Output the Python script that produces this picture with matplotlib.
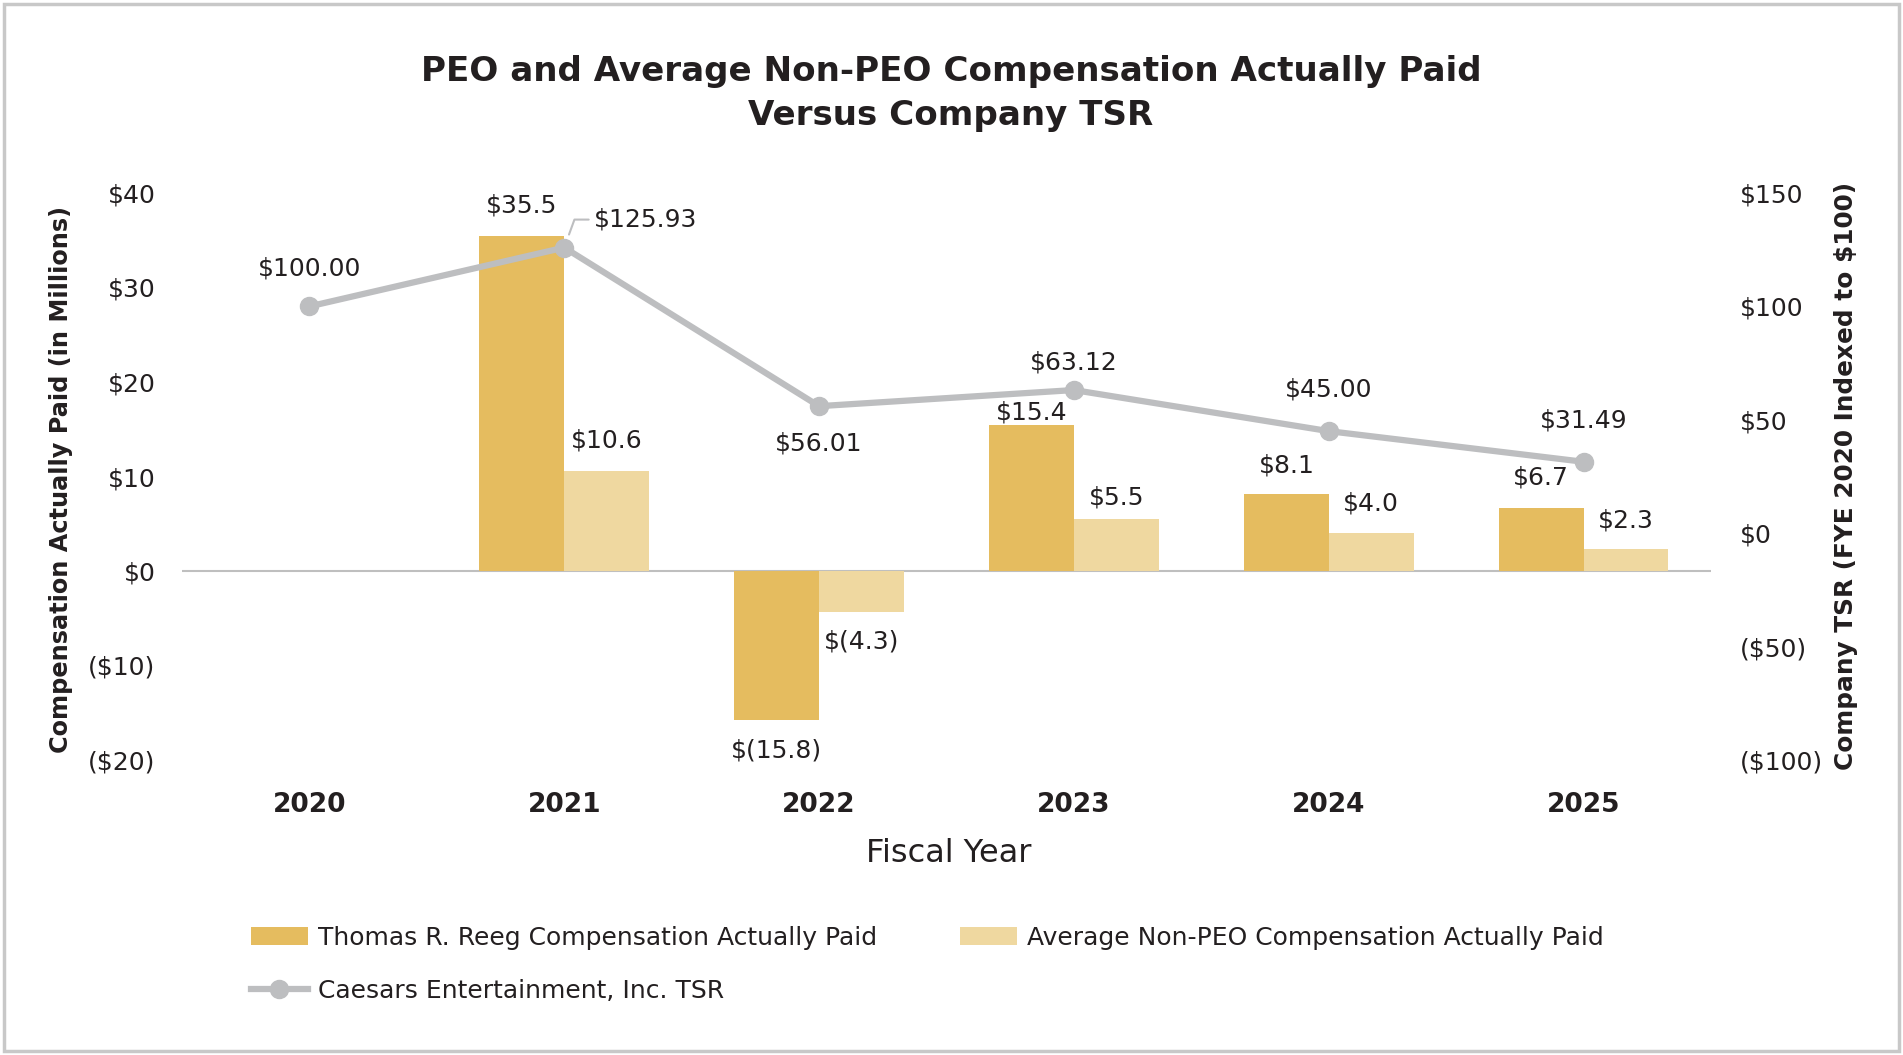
import matplotlib
matplotlib.use("Agg")
import matplotlib.pyplot as plt
import numpy as np
from matplotlib.patches import Rectangle

years = ["2020", "2021", "2022", "2023", "2024", "2025"]
peo_cap = [np.nan, 35.5, -15.8, 15.4, 8.1, 6.7]
neo_cap = [np.nan, 10.6, -4.3, 5.5, 4.0, 2.3]
tsr = [100.00, 125.93, 56.01, 63.12, 45.00, 31.49]

peo_labels = ["", "$35.5", "$(15.8)", "$15.4", "$8.1", "$6.7"]
neo_labels = ["", "$10.6", "$(4.3)", "$5.5", "$4.0", "$2.3"]
tsr_labels = ["$100.00", "$125.93", "$56.01", "$63.12", "$45.00", "$31.49"]

left_ticks = [-20, -10, 0, 10, 20, 30, 40]
left_ticklabels = ["($20)", "($10)", "$0", "$10", "$20", "$30", "$40"]
right_ticks = [-100, -50, 0, 50, 100, 150]
right_ticklabels = ["($100)", "($50)", "$0", "$50", "$100", "$150"]

GOLD = "#E5BC5F"
LIGHT = "#EFD8A0"
GRAY = "#BDBEC0"
TXT = "#231F20"

plt.rcParams['font.family'] = ['DejaVu Sans']

fig = plt.figure(figsize=(19.03, 10.55), dpi=100)
ax = fig.add_axes([182/1903, 1-760/1055, (1711-182)/1903, (760-193)/1055])
ax2 = ax.twinx()

x = np.arange(len(years))
w = 0.333
ax.bar(x - w/2, peo_cap, width=w, color=GOLD, label="Thomas R. Reeg Compensation Actually Paid", zorder=2)
ax.bar(x + w/2, neo_cap, width=w, color=LIGHT, label="Average Non-PEO Compensation Actually Paid", zorder=2)
ax.axhline(0, color="#BFBFBF", lw=1.5, zorder=1)

ax.set_xlim(-0.5, 5.5)
ax.set_ylim(-20, 40)
ax2.set_ylim(-100, 150)
ax.set_yticks(left_ticks)
ax.set_yticklabels(left_ticklabels)
ax2.set_yticks(right_ticks)
ax2.set_yticklabels(right_ticklabels)
ax.set_xticks(x)
ax.set_xticklabels(years, fontweight="bold")
for a in (ax, ax2):
    for s in a.spines.values():
        s.set_visible(False)
    a.tick_params(length=0, labelsize=18, colors=TXT)
ax.tick_params(axis='y', pad=19)
ax2.tick_params(axis='y', pad=21)
ax.tick_params(axis='x', pad=23, labelsize=19)

# bar label offsets (pixels from bar end)
peo_off = [0, 30, 30, 13, 29, 30]
neo_off = [0, 30, 30, 22, 30, 29]
for i in range(len(years)):
    for vals, labs, offs, dx in ((peo_cap, peo_labels, peo_off, -w/2), (neo_cap, neo_labels, neo_off, w/2)):
        v = vals[i]
        if np.isnan(v):
            continue
        dy = offs[i] if v >= 0 else -offs[i]
        ax.annotate(labs[i], (x[i] + dx, v), xytext=(0, dy), textcoords="offset pixels",
                    ha="center", va="center", fontsize=18, color=TXT)

ln, = ax2.plot(x, tsr, color=GRAY, lw=4.5, marker="o", markersize=13, zorder=3,
               label="Caesars Entertainment, Inc. TSR")
ax2.set_zorder(ax.get_zorder() + 1)
ax.patch.set_visible(False)

tsr_offsets = [(0, 38), None, (0, -37), (0, 28), (0, 42), (0, 41)]
for i in range(len(years)):
    if tsr_offsets[i] is None:
        ax2.annotate(tsr_labels[i], (x[i], tsr[i]), xytext=(30, 28), textcoords="offset pixels",
                     ha="left", va="center", fontsize=18, color=TXT,
                     arrowprops=dict(arrowstyle="-", color=GRAY, lw=1.5,
                                     connectionstyle="angle,angleA=0,angleB=70,rad=0",
                                     shrinkA=2, shrinkB=10))
    else:
        ax2.annotate(tsr_labels[i], (x[i], tsr[i]), xytext=tsr_offsets[i], textcoords="offset pixels",
                     ha="center", va="center", fontsize=18, color=TXT)

fig.text(61/1903, 1-479/1055, "Compensation Actually Paid (in Millions)", rotation=90,
         ha="center", va="center", fontsize=17.3, fontweight="bold", color=TXT)
fig.text(1846/1903, 1-476/1055, "Company TSR (FYE 2020 Indexed to $100)", rotation=90,
         ha="center", va="center", fontsize=17.8, fontweight="bold", color=TXT)
fig.text(949/1903, 1-853/1055, "Fiscal Year", ha="center", va="center", fontsize=23, color=TXT)

fig.text(951/1903, 1-71/1055, "PEO and Average Non-PEO Compensation Actually Paid",
         ha="center", va="center", fontsize=24.6, fontweight="bold", color=TXT)
fig.text(951/1903, 1-116/1055, "Versus Company TSR",
         ha="center", va="center", fontsize=24.6, fontweight="bold", color=TXT)

h1, l1 = ax.get_legend_handles_labels()
handles = [h1[0], ln, h1[1]]
labels = [l1[0], ln.get_label(), l1[1]]
fig.legend(handles, labels, ncol=2, loc="upper left", bbox_to_anchor=(243/1903, 1-918/1055),
           frameon=False, fontsize=18, handlelength=2.3, handleheight=0.7, columnspacing=3.3,
           labelspacing=1.18, handletextpad=0.4, labelcolor=TXT, borderaxespad=0, borderpad=0.3)

fig.patches.append(Rectangle((4/1903, 4/1055), 1-8/1903, 1-8/1055, transform=fig.transFigure,
                             fill=False, edgecolor="#C8C8C8", lw=2.5))

fig.savefig("out.png", dpi=100)
